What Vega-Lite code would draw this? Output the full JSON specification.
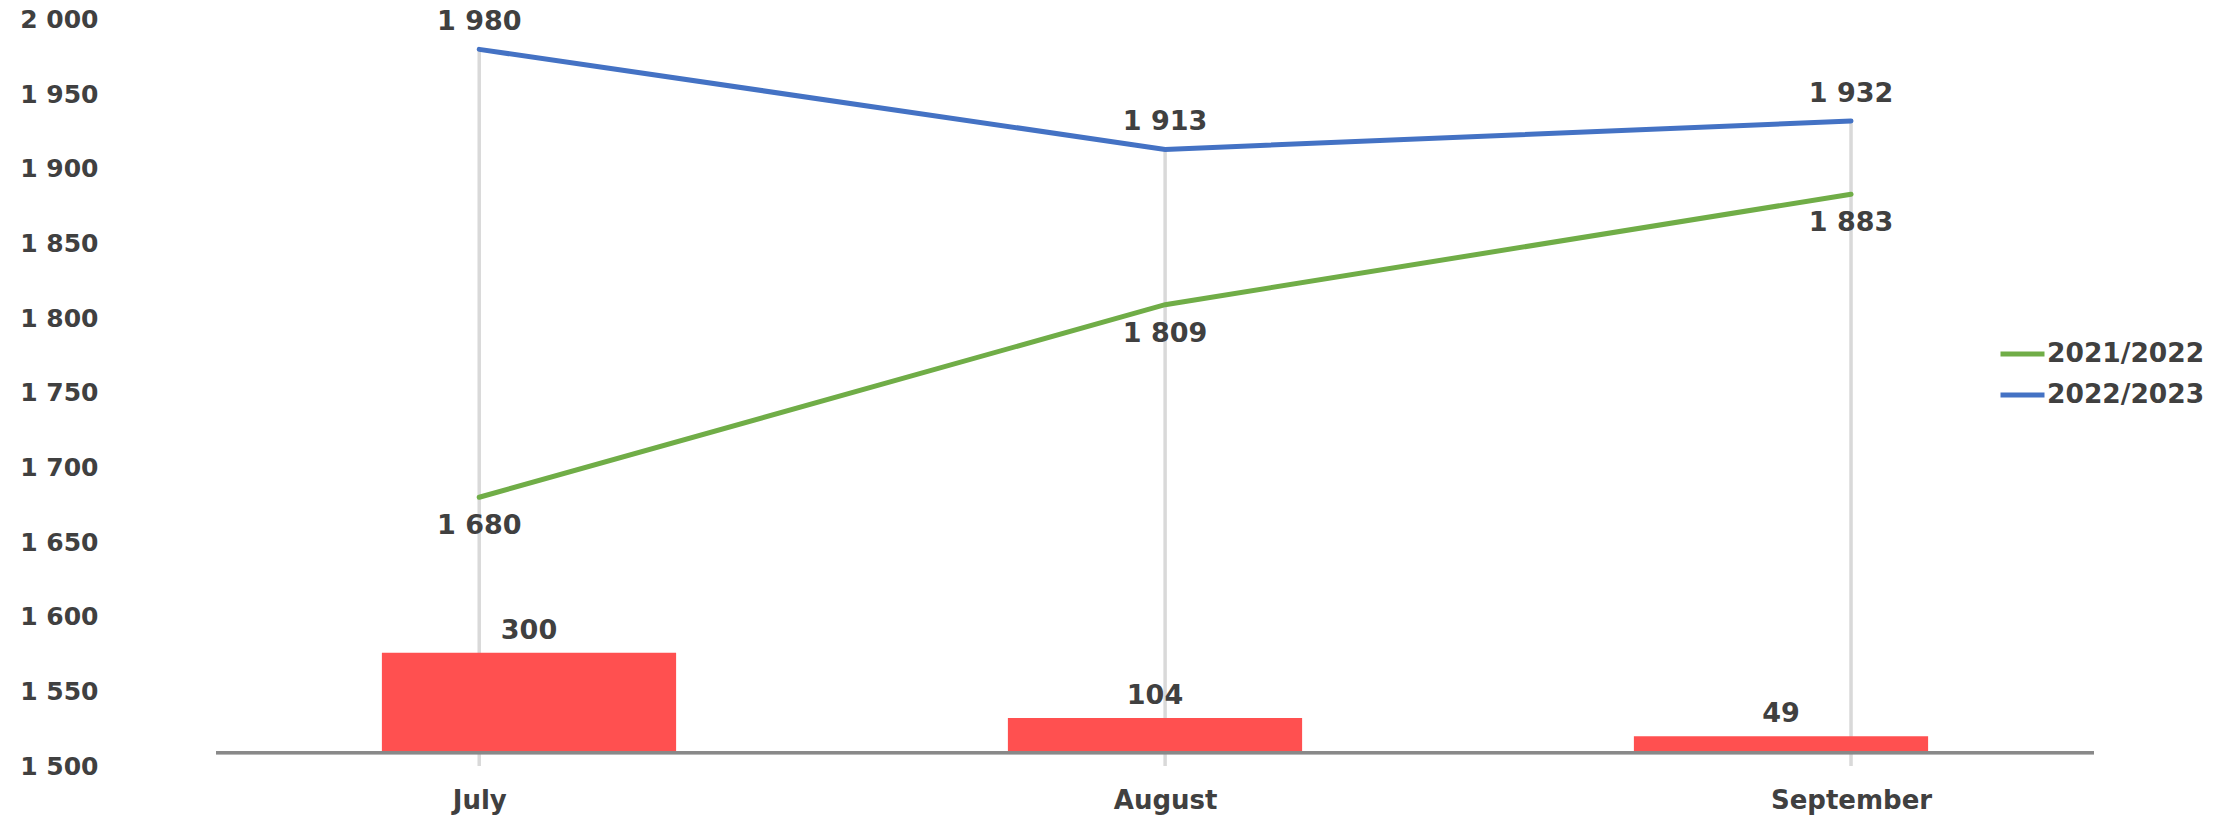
{
  "$schema": "https://vega.github.io/schema/vega-lite/v6.json",
  "width": 1878,
  "height": 746.5,
  "autosize": {"type": "none"},
  "padding": {"left": 216, "top": 19.5, "right": 137, "bottom": 49},
  "background": "white",
  "config": {
    "view": {"stroke": null},
    "font": "DejaVu Sans",
    "locale": {"number": {"decimal": ",", "thousands": " ", "grouping": [3], "currency": ["", ""]}}
  },
  "datasets": {
    "lines": [
      {"month": "July", "series": "2021/2022", "value": 1680},
      {"month": "August", "series": "2021/2022", "value": 1809},
      {"month": "September", "series": "2021/2022", "value": 1883},
      {"month": "July", "series": "2022/2023", "value": 1980},
      {"month": "August", "series": "2022/2023", "value": 1913},
      {"month": "September", "series": "2022/2023", "value": 1932}
    ],
    "bars": [
      {"month": "July", "value": 300},
      {"month": "August", "value": 104},
      {"month": "September", "value": 49}
    ]
  },
  "layer": [
    {
      "data": {"name": "lines"},
      "mark": {"type": "rule", "color": "#d9d9d9", "strokeWidth": 3.5},
      "encoding": {
        "x": {"field": "month", "type": "ordinal", "sort": ["July", "August", "September"],
              "scale": {"type": "point", "padding": 0.369, "align": 0.52}, "axis": null},
        "y": {"aggregate": "max", "field": "value", "type": "quantitative",
              "scale": {"domain": [1500, 2000], "nice": false, "zero": false}, "axis": null},
        "y2": {"datum": 1500}
      }
    },
    {
      "data": {"name": "bars"},
      "encoding": {
        "x": {"field": "month", "type": "nominal", "sort": ["July", "August", "September"],
              "scale": {"type": "band", "paddingInner": 0.53, "paddingOuter": 0.265}, "axis": null},
        "y": {"field": "value", "type": "quantitative",
              "scale": {"domain": [-40, 2200], "nice": false, "zero": false}, "axis": null}
      },
      "layer": [
        {"mark": {"type": "bar", "color": "#FF5050"}},
        {"mark": {"type": "rule", "color": "#898989", "strokeWidth": 3},
         "encoding": {"x": null, "y": {"datum": 0, "type": "quantitative"}}},
        {"mark": {"type": "text", "baseline": "middle", "align": "center", "dy": -22,
                  "font": "DejaVu Sans", "fontWeight": "bold", "fontSize": 27, "color": "#404040"},
         "encoding": {"text": {"field": "value", "type": "quantitative", "format": ",d"}}}
      ]
    },
    {
      "data": {"name": "lines"},
      "encoding": {
        "x": {"field": "month", "type": "ordinal", "sort": ["July", "August", "September"],
              "scale": {"type": "point", "padding": 0.369, "align": 0.52},
              "axis": {"title": null, "domain": false, "ticks": false, "tickSize": 0, "grid": false,
                       "labelAngle": 0, "labelBaseline": "middle", "labelPadding": 34,
                       "labelFont": "DejaVu Sans", "labelFontWeight": "bold", "labelFontSize": 26, "labelColor": "#404040"}},
        "y": {"field": "value", "type": "quantitative",
              "scale": {"domain": [1500, 2000], "nice": false, "zero": false},
              "axis": {"orient": "left", "title": null, "domain": false, "ticks": false, "tickSize": 0, "grid": false,
                       "values": [1500, 1550, 1600, 1650, 1700, 1750, 1800, 1850, 1900, 1950, 2000],
                       "format": ",d", "labelPadding": 118, "labelBaseline": "middle",
                       "labelFont": "DejaVu Sans", "labelFontWeight": "bold", "labelFontSize": 25, "labelColor": "#404040"}}
      },
      "layer": [
        {"mark": {"type": "line", "strokeWidth": 5, "strokeCap": "round"},
         "encoding": {"color": {"field": "series", "type": "nominal",
                                "scale": {"domain": ["2021/2022", "2022/2023"], "range": ["#70AD47", "#4472C4"]},
                                "legend": {"title": null, "orient": "none", "legendX": 1782, "legendY": 310,
                                           "symbolType": "stroke", "symbolSize": 1936, "symbolStrokeWidth": 5,
                                           "labelFont": "DejaVu Sans", "labelFontWeight": "bold", "labelFontSize": 26.5,
                                           "labelColor": "#404040", "labelOffset": 0, "rowPadding": 3}}}},
        {"transform": [{"filter": "datum.series == '2022/2023'"}],
         "mark": {"type": "text", "baseline": "middle", "align": "center", "dy": -27,
                  "font": "DejaVu Sans", "fontWeight": "bold", "fontSize": 27, "color": "#404040"},
         "encoding": {"text": {"field": "value", "type": "quantitative", "format": ",d"}}},
        {"transform": [{"filter": "datum.series == '2021/2022'"}],
         "mark": {"type": "text", "baseline": "middle", "align": "center", "dy": 29,
                  "font": "DejaVu Sans", "fontWeight": "bold", "fontSize": 27, "color": "#404040"},
         "encoding": {"text": {"field": "value", "type": "quantitative", "format": ",d"}}}
      ]
    }
  ],
  "resolve": {"scale": {"x": "independent", "y": "independent", "color": "independent"}, "axis": {"x": "independent", "y": "independent"}}
}
